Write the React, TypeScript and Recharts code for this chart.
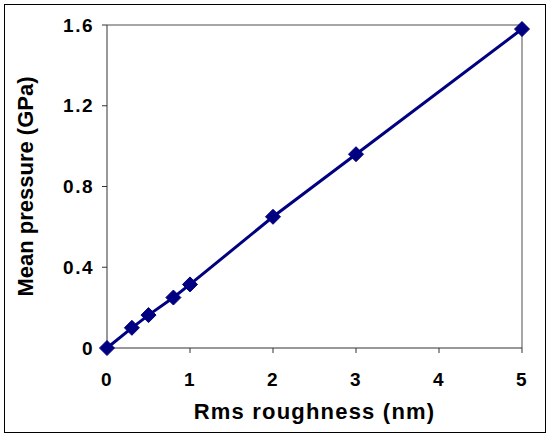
import React from 'react';
import {
  LineChart,
  Line,
  XAxis,
  YAxis,
  ReferenceLine,
} from 'recharts';

const roughness = [0, 0.3, 0.5, 0.8, 1, 2, 3, 5];
const pressure = [0, 0.1, 0.163, 0.25, 0.315, 0.65, 0.96, 1.58];
const xTicks = [0, 1, 2, 3, 4, 5];
const yTicks = [0, 0.4, 0.8, 1.2, 1.6];

const data = roughness.map((x, i) => ({ x, y: pressure[i] }));

const NAVY = '#000080';
const FONT = '"Liberation Sans", Arial, sans-serif';

const Diamond = (props: any) => {
  const { cx, cy } = props;
  if (cx == null || cy == null) return null;
  const r = 7.5;
  return (
    <path
      d={`M${cx},${cy - r} L${cx + r},${cy} L${cx},${cy + r} L${cx - r},${cy} Z`}
      fill={NAVY}
      stroke={NAVY}
    />
  );
};

const tickStyle = { fontSize: 19, fontWeight: 'bold', fill: '#000', fontFamily: FONT, letterSpacing: 1.5 };
const titleStyle = { fontSize: 22, fontWeight: 'bold', fill: '#000', fontFamily: FONT, letterSpacing: 1.2 };

export default function App() {
  return (
    <div
      style={{
        position: 'absolute',
        left: 0,
        top: 0,
        width: 547,
        height: 435,
        background: '#fff',
      }}
    >
      <div
        style={{
          position: 'absolute',
          left: 4,
          top: 4,
          width: 542,
          height: 429,
          border: '1.5px solid #000',
          boxSizing: 'border-box',
        }}
      />
      <LineChart
        width={547}
        height={435}
        data={data}
        margin={{ top: 25, right: 25, bottom: 0, left: 0 }}
        style={{ position: 'absolute', left: 0, top: 0 }}
      >
        <XAxis
          dataKey="x"
          type="number"
          domain={[0, 5]}
          ticks={xTicks}
          height={87}
          tick={tickStyle}
          tickSize={5}
          tickMargin={20}
          stroke="#333"
          label={{
            value: 'Rms roughness (nm)',
            position: 'insideBottom',
            offset: 16,
            style: titleStyle,
          }}
        />
        <YAxis
          type="number"
          domain={[0, 1.6]}
          ticks={yTicks}
          width={107}
          tick={tickStyle}
          tickSize={5}
          tickMargin={8}
          stroke="#333"
          label={{
            value: 'Mean pressure (GPa)',
            angle: -90,
            position: 'insideLeft',
            offset: 25,
            style: { ...titleStyle, letterSpacing: 0, textAnchor: 'middle' },
          }}
        />
        <ReferenceLine y={1.6} stroke="#888" strokeWidth={1.5} />
        <ReferenceLine x={5} stroke="#888" strokeWidth={1.5} />
        <Line
          dataKey="y"
          stroke={NAVY}
          strokeWidth={3}
          dot={<Diamond />}
          activeDot={false}
          isAnimationActive={false}
        />
      </LineChart>
    </div>
  );
}
